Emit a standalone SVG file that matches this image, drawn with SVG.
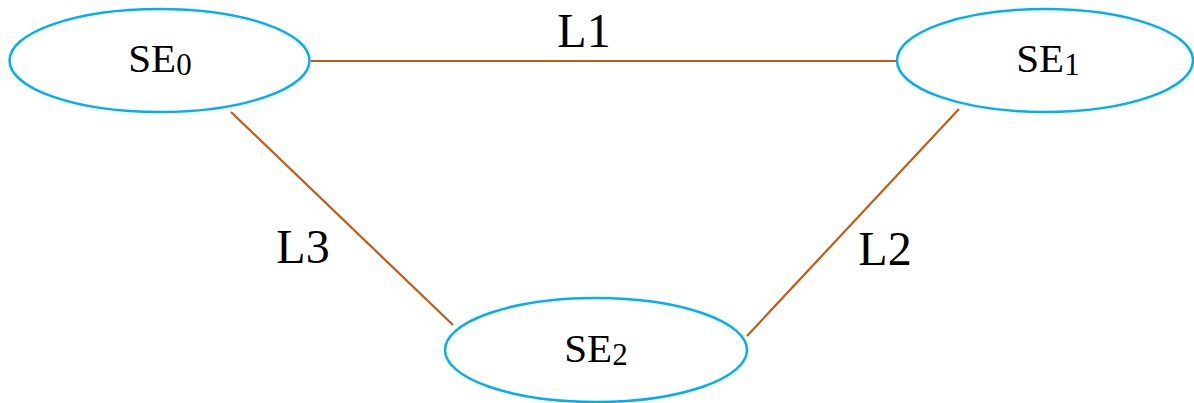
<svg xmlns="http://www.w3.org/2000/svg" width="1194" height="403" viewBox="0 0 1194 403">
<style>
.node{fill:#fff;stroke:#00B0F0;stroke-width:2.5}
.lbl{font-family:"Liberation Serif","Times New Roman",serif;font-size:41px;fill:#000;text-anchor:middle}
.sub{font-size:31px}
.edge{stroke:#C55A11;stroke-width:2.2;fill:none}
.elbl{font-family:"Liberation Serif","Times New Roman",serif;font-size:48px;fill:#000;text-anchor:middle}
</style>
<rect width="1194" height="403" fill="#fff"/>
<g id="connectors">
<line class="edge" x1="311" y1="61" x2="897" y2="61"/>
<line class="edge" x1="959" y1="109" x2="747" y2="336"/>
<line class="edge" x1="231" y1="112" x2="453" y2="325"/>
<text class="elbl" x="584" y="47">L1</text>
<text class="elbl" x="885" y="265">L2</text>
<text class="elbl" x="303" y="263">L3</text>
</g>
<g id="SE0">
<ellipse class="node" cx="159.5" cy="60.5" rx="150" ry="51.5"/>
<text class="lbl" x="160" y="72">SE<tspan class="sub" dy="3">0</tspan></text>
</g>
<g id="SE1">
<ellipse class="node" cx="1045" cy="60.5" rx="148" ry="51.5"/>
<text class="lbl" x="1048" y="72">SE<tspan class="sub" dy="3">1</tspan></text>
</g>
<g id="SE2">
<ellipse class="node" cx="596" cy="350" rx="151" ry="52"/>
<text class="lbl" x="596" y="362">SE<tspan class="sub" dy="3">2</tspan></text>
</g>
</svg>
